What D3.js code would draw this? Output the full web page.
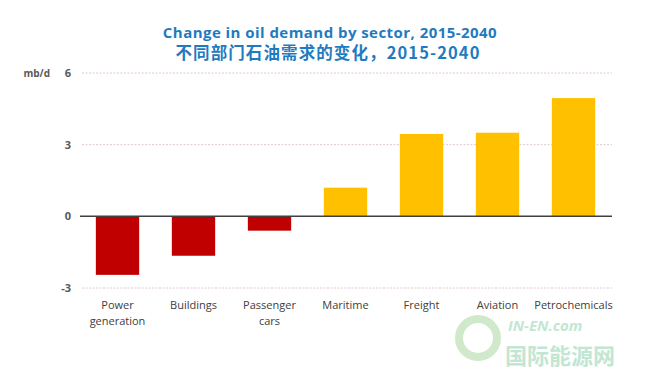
<!DOCTYPE html>
<html>
<head>
<meta charset="utf-8">
<script src="https://cdn.jsdelivr.net/npm/d3@7"></script>
<style>
  body { margin: 0; background: #fff; }
  svg { display: block; }
</style>
</head>
<body>
<div id="chart"></div>
<script>
var categories = ['Power generation', 'Buildings', 'Passenger cars', 'Maritime', 'Freight', 'Aviation', 'Petrochemicals'];
var values = [-2.45, -1.65, -0.6, 1.2, 3.45, 3.5, 4.95];
var yTicks = [-3, 0, 3, 6];

var width = 650, height = 372;

var svg = d3.select('#chart').append('svg')
    .attr('width', width)
    .attr('height', height);

var x = d3.scaleBand()
    .domain(categories)
    .range([79.5, 611.5])
    .paddingInner(0.43)
    .paddingOuter(0.215);

var y = d3.scaleLinear()
    .domain([-3, 6])
    .range([288, 73]);

// title
svg.append('text')
    .attr('x', 330).attr('y', 38)
    .attr('text-anchor', 'middle')
    .style('font-family', '"Open Sans", sans-serif')
    .style('font-weight', 'bold')
    .style('font-size', '15px')
    .style('letter-spacing', '0.45px')
    .style('fill', '#1f7bbf')
    .text('Change in oil demand by sector, 2015-2040');

svg.append('text')
    .attr('x', 328).attr('y', 59)
    .attr('text-anchor', 'middle')
    .style('font-family', '"Noto Sans CJK SC", sans-serif')
    .style('font-weight', 'bold')
    .style('font-size', '16.5px')
    .style('letter-spacing', '1.1px')
    .style('fill', '#1f7bbf')
    .text('不同部门石油需求的变化，2015-2040');

// grid lines
svg.append('g').selectAll('line')
    .data(yTicks.filter(function (d) { return d !== 0; }))
    .enter().append('line')
    .attr('x1', 82).attr('x2', 612)
    .attr('y1', function (d) { return y(d); })
    .attr('y2', function (d) { return y(d); })
    .attr('stroke', '#e2c8d0')
    .attr('stroke-width', 1)
    .attr('stroke-dasharray', '2,1.5');

// y tick labels
svg.append('g').selectAll('text')
    .data(yTicks)
    .enter().append('text')
    .attr('x', 71)
    .attr('y', function (d) { return y(d) + 4; })
    .attr('text-anchor', 'end')
    .style('font-family', '"Open Sans", sans-serif')
    .style('font-weight', 'bold')
    .style('font-size', '11px')
    .style('fill', '#595959')
    .text(function (d) { return d; });

svg.append('text')
    .attr('x', 50).attr('y', y(6) + 4)
    .attr('text-anchor', 'end')
    .style('font-family', '"Open Sans", sans-serif')
    .style('font-weight', 'bold')
    .style('font-size', '10px')
    .style('fill', '#595959')
    .text('mb/d');

// bars
svg.append('g').selectAll('rect')
    .data(values)
    .enter().append('rect')
    .attr('x', function (d, i) { return x(categories[i]); })
    .attr('width', x.bandwidth())
    .attr('y', function (d) { return y(Math.max(0, d)); })
    .attr('height', function (d) { return Math.abs(y(d) - y(0)); })
    .attr('fill', function (d) { return d < 0 ? '#c00000' : '#ffc000'; });

// zero line
svg.append('line')
    .attr('x1', 80).attr('x2', 612)
    .attr('y1', y(0)).attr('y2', y(0))
    .attr('stroke', '#404040')
    .attr('stroke-width', 1.5);

// category labels
var labelLines = {
    'Power generation': ['Power', 'generation'],
    'Passenger cars': ['Passenger', 'cars']
};
var labels = svg.append('g').selectAll('text')
    .data(categories)
    .enter().append('text')
    .attr('x', function (d) { return x(d) + x.bandwidth() / 2; })
    .attr('y', 309)
    .attr('text-anchor', 'middle')
    .style('font-family', '"Open Sans", sans-serif')
    .style('font-size', '11px')
    .style('fill', '#404040');

labels.each(function (d) {
    var lines = labelLines[d] || [d];
    var t = d3.select(this);
    lines.forEach(function (l, i) {
        t.append('tspan')
            .attr('x', x(d) + x.bandwidth() / 2)
            .attr('dy', i === 0 ? 0 : 16)
            .text(l);
    });
});

// watermark
var wm = svg.append('g').attr('opacity', 0.55);
wm.append('circle')
    .attr('cx', 478).attr('cy', 338).attr('r', 19)
    .attr('fill', 'none')
    .attr('stroke', '#a8d8a0')
    .attr('stroke-width', 8);
wm.append('text')
    .attr('x', 508).attr('y', 331)
    .style('font-family', '"Open Sans", sans-serif')
    .style('font-weight', 'bold')
    .style('font-style', 'italic')
    .style('font-size', '15px')
    .style('fill', '#8fd3b0')
    .text('IN-EN.com');
wm.append('text')
    .attr('x', 505).attr('y', 364)
    .style('font-family', '"Noto Sans CJK SC", sans-serif')
    .style('font-weight', 'bold')
    .style('font-size', '22px')
    .style('fill', '#8fd3b0')
    .text('国际能源网');
</script>
</body>
</html>
